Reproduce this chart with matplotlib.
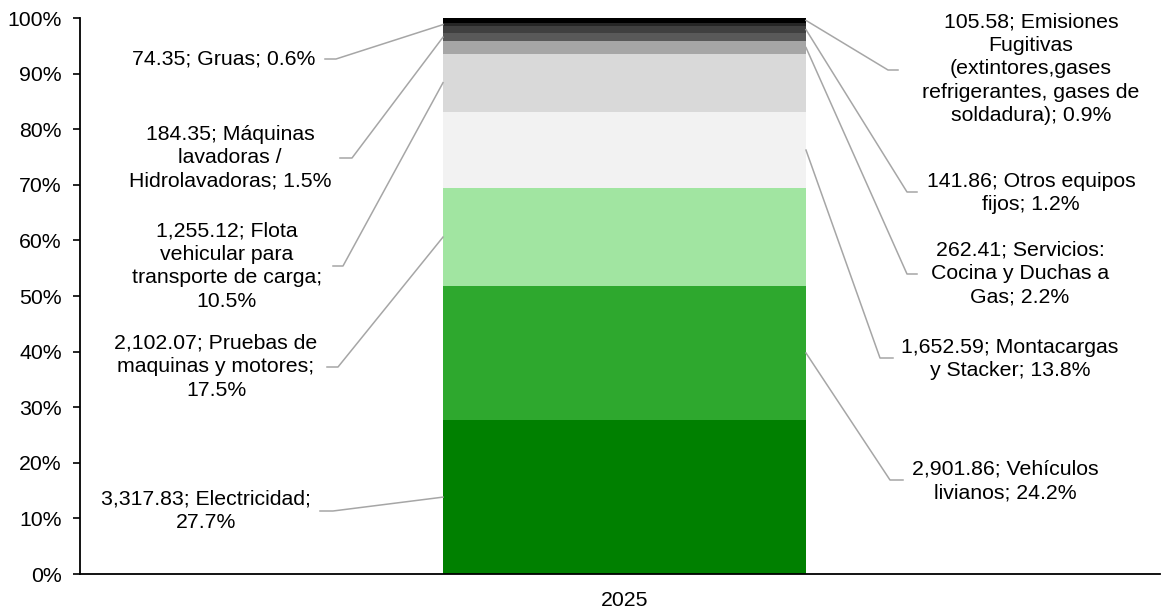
import numpy as np
import matplotlib.pyplot as plt

plt.rcParams['font.family'] = ['Liberation Sans', 'DejaVu Sans']

# data (bottom -> top of the stacked bar)
year = '2025'
values = [3317.83, 2901.86, 2102.07, 1652.59, 1255.12, 262.41, 184.35, 141.86, 74.35, 105.58]
shares = [27.7, 24.2, 17.5, 13.8, 10.5, 2.2, 1.5, 1.2, 0.6, 0.9]
labels = [
    '3,317.83; Electricidad;\n27.7%',
    '2,901.86; Vehículos\nlivianos; 24.2%',
    '2,102.07; Pruebas de\nmaquinas y motores;\n17.5%',
    '1,652.59; Montacargas\ny Stacker; 13.8%',
    '1,255.12; Flota\nvehicular para\ntransporte de carga;\n10.5%',
    '262.41; Servicios:\nCocina y Duchas a\nGas; 2.2%',
    '184.35; Máquinas\nlavadoras /\nHidrolavadoras; 1.5%',
    '141.86; Otros equipos\nfijos; 1.2%',
    '74.35; Gruas; 0.6%',
    '105.58; Emisiones\nFugitivas\n(extintores,gases\nrefrigerantes, gases de\nsoldadura); 0.9%',
]
colors = ['#008000', '#2ea82e', '#a1e5a1', '#f2f2f2', '#d9d9d9',
          '#a6a6a6', '#595959', '#404040', '#262626', '#000000']

# label layout in reference pixels: side, text centre, line start, elbow
layout = [
    ('L', (206, 511), (320, 511), (333, 511)),
    ('R', (1005, 481), (903, 480), (890, 480)),
    ('L', (216, 367), (327, 367), (338, 367)),
    ('R', (1010, 359), (893, 358), (880, 358)),
    ('L', (227, 266), (333, 266), (343, 266)),
    ('R', (1020, 274), (917, 274), (907, 274)),
    ('L', (230, 158), (340, 158), (352, 158)),
    ('R', (1031, 193), (917, 192), (907, 192)),
    ('L', (224, 59), (325, 59), (336, 59)),
    ('R', (1031, 69), (898, 70), (888, 70)),
]

W, H = 1164, 610
fig = plt.figure(figsize=(W / 100, H / 100), dpi=100)
ax = fig.add_axes([80 / W, 1 - 574 / H, 1080 / W, 556 / H])

x0_px, y0_px, ppx_y = 624.5, 574, 5.56


def px(p):
    return ((p[0] - x0_px) / 1080, (y0_px - p[1]) / ppx_y)


bw = 363 / 1080
frac = np.array(values) / np.sum(values) * 100
bottom = 0
for f, c in zip(frac, colors):
    ax.bar(0, f, bw, bottom=bottom, color=c, edgecolor='none')
    bottom += f

fs = 15.3
cum = np.cumsum(frac) - frac / 2
for lab, mid, (side, tc, ls, el) in zip(labels, cum, layout):
    xe = -bw / 2 if side == 'L' else bw / 2
    p1, p2 = px(ls), px(el)
    ax.plot([p1[0], p2[0], xe], [p1[1], p2[1], mid], color='#a6a6a6', lw=1.1,
            clip_on=False, zorder=1)
    tx, ty = px(tc)
    ax.text(tx, ty, lab, ha='center', va='center', multialignment='center',
            fontsize=fs, linespacing=1.3, color='#000000')

ax.set_xlim(-544.5 / 1080, 535.5 / 1080)
ax.set_ylim(0, 100)
ax.set_yticks(np.arange(0, 101, 10))
ax.set_yticklabels([f'{v}%' for v in range(0, 101, 10)], fontsize=fs)
ax.set_xticks([0])
ax.set_xticklabels([year], fontsize=fs)
ax.tick_params(axis='x', length=0, pad=12)
ax.tick_params(axis='y', length=5, width=1.2, pad=8)
for s in ['top', 'right']:
    ax.spines[s].set_visible(False)
for s in ['left', 'bottom']:
    ax.spines[s].set_linewidth(1.3)

fig.savefig('out.png', dpi=100)
